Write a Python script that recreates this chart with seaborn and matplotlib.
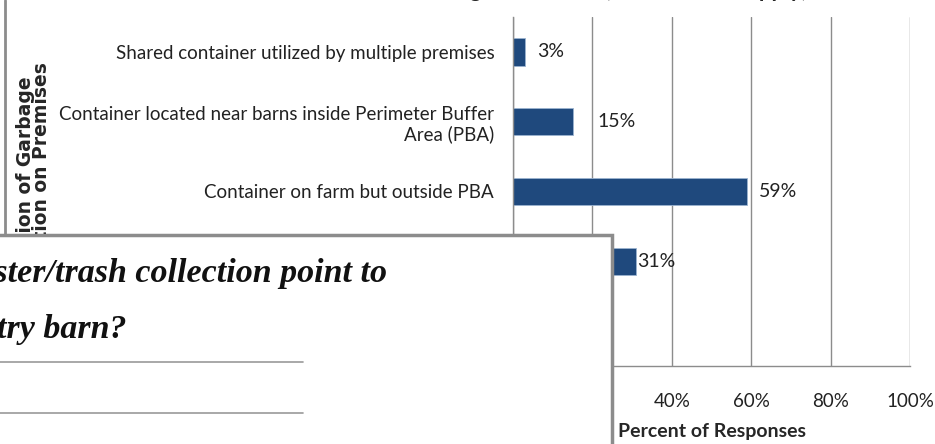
import matplotlib
matplotlib.use("Agg")
import matplotlib.pyplot as plt
import seaborn as sns
import pandas as pd
from matplotlib.patches import Rectangle
from matplotlib.lines import Line2D
from matplotlib.ticker import FixedLocator, PercentFormatter

# data (last two category labels are hidden behind the overlay box)
categories = [
    "Shared container utilized by multiple premises",
    "Container located near barns inside Perimeter Buffer\nArea (PBA)",
    "Container on farm but outside PBA",
    "Dumpster/trash collection point at end of driveway",
    "Other",
]
percent = [3, 15, 59, 31, 5]
bar_labels = ["3%", "15%", "59%", "31%", "5%"]
x_ticks = [0, 20, 40, 60, 80, 100]

sns.set_style("white")
plt.rcParams["font.family"] = ["Lato", "DejaVu Sans"]

W, H = 935, 444
fig = plt.figure(figsize=(W / 100, H / 100), dpi=100)
ax = fig.add_axes([513 / W, 1 - 366 / H, (910 - 513) / W, (366 - 17) / H])

df = pd.DataFrame({"cat": categories, "pct": percent})
sns.barplot(data=df, y="cat", x="pct", orient="h", color="#1F497D",
            saturation=1, width=0.39, ax=ax, edgecolor="#9bb3d0", linewidth=0.6)

ax.set_xlim(0, 100)
ax.set_ylim(len(categories) - 0.5, -0.5)
ax.set_xticks(x_ticks)
ax.xaxis.set_major_formatter(PercentFormatter(decimals=0))
ax.grid(axis="x", color="#8c8c8c", lw=1)
ax.set_axisbelow(True)
ax.tick_params(axis="x", length=6.5, color="#8c8c8c", labelsize=13.5, pad=13,
               labelcolor="#222222")
ax.tick_params(axis="y", which="major", length=0, labelsize=13.5, pad=13.5,
               labelcolor="#222222")
ax.yaxis.set_minor_locator(FixedLocator([i - 0.5 for i in range(len(categories) + 1)]))
ax.tick_params(axis="y", which="minor", length=4.5, color="#8c8c8c", direction="out")
for s in ["top", "right"]:
    ax.spines[s].set_visible(False)
for s in ["left", "bottom"]:
    ax.spines[s].set_color("#8c8c8c")
    ax.spines[s].set_linewidth(1)

# bar value labels
pads = [12, 25, 12, 1, 12]
for i, (v, lab) in enumerate(zip(percent, bar_labels)):
    ax.annotate(lab, (v, i), xytext=(pads[i], 0), textcoords="offset pixels",
                va="center", ha="left", fontsize=14, color="#222222")

ax.set_xlabel("Percent of Responses", fontsize=14, fontweight="bold", labelpad=9)
ax.set_ylabel("Location of Garbage\nCollection on Premises", fontsize=13.5,
              fontweight="bold", family=["DejaVu Sans"], linespacing=0.8)
ax.yaxis.set_label_coords(51 / W, 1 - 183 / H, transform=fig.transFigure)

# chart title, mostly cut off by the top edge
fig.text(550 / W, 1 + 3 / H, "Location of Garbage Collection (check all that apply)",
         ha="center", va="baseline", fontsize=16, fontweight="bold")

# left border of the chart frame
fig.add_artist(Line2D([5 / W, 5 / W], [1, 1 - 235 / H], transform=fig.transFigure,
                      color="#8c8c8c", lw=2))

# overlapping slide box
box = Rectangle((-10 / W, -20 / H), (612 + 10) / W, (444 + 20 - 235) / H,
                transform=fig.transFigure, facecolor="white", edgecolor="#8c8c8c",
                lw=2.5, zorder=10)
fig.add_artist(box)
serif = dict(family=["Liberation Serif", "DejaVu Serif"], fontweight="bold",
             style="italic", fontsize=24.5, color="#111111", zorder=11)
fig.text(387 / W, 1 - 282 / H, "Distance from dumpster/trash collection point to",
         ha="right", va="baseline", **serif)
fig.text(127 / W, 1 - 338 / H, "nearest poultry barn?", ha="right", va="baseline", **serif)
for yy in [362, 413]:
    fig.add_artist(Line2D([0, 303 / W], [1 - yy / H, 1 - yy / H], transform=fig.transFigure,
                          color="#999999", lw=1.2, zorder=11))

fig.savefig("out.png", dpi=100)
